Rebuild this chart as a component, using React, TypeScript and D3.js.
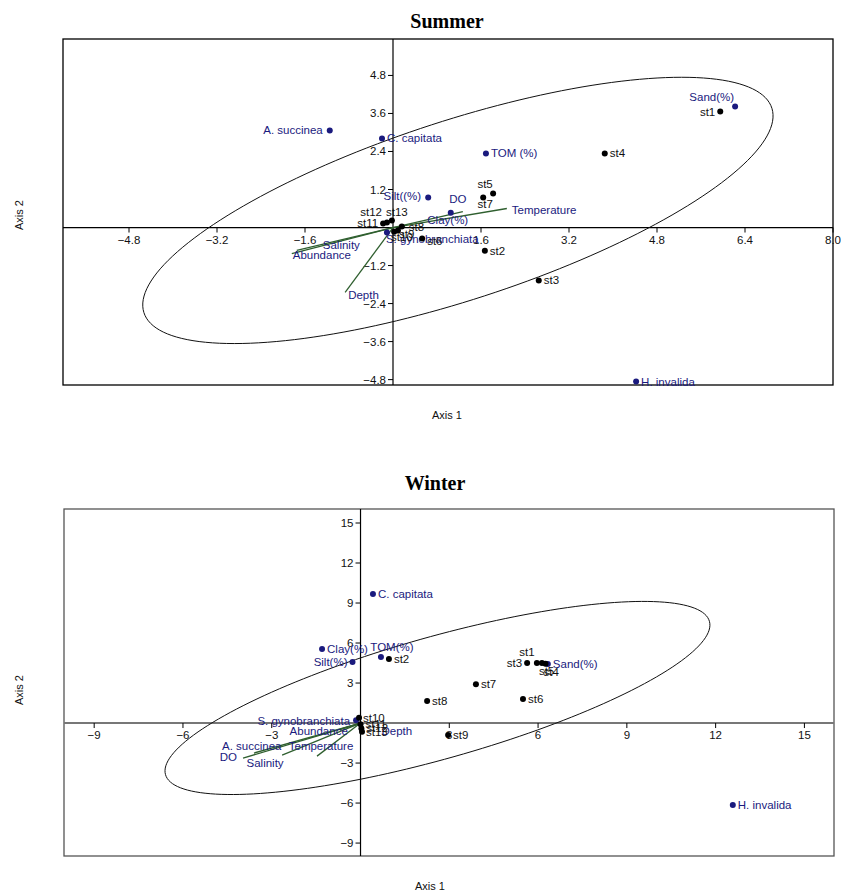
import React from "react";
import * as d3 from "d3";

// ---------- Summer ----------
const summerXTicks = [-4.8, -3.2, -1.6, 1.6, 3.2, 4.8, 6.4, 8.0];
const summerYTicks = [4.8, 3.6, 2.4, 1.2, -1.2, -2.4, -3.6, -4.8];

const summerSites: [string, number, number][] = [
  ["st1", 5.95, 3.66],
  ["st2", 1.67, -0.73],
  ["st3", 2.65, -1.67],
  ["st4", 3.85, 2.34],
  ["st5", 1.82, 1.07],
  ["st6", 0.53, -0.35],
  ["st7", 1.64, 0.95],
  ["st8", 0.16, 0.03],
  ["st9", 0.09, -0.09],
  ["st10", 0.02, -0.13],
  ["st11", -0.18, 0.13],
  ["st12", -0.11, 0.16],
  ["st13", -0.02, 0.22],
];

const summerSpecies: [string, number, number][] = [
  ["A. succinea", -1.15, 3.06],
  ["C. capitata", -0.2, 2.81],
  ["TOM (%)", 1.69, 2.34],
  ["Sand(%)", 6.22, 3.82],
  ["Silt((%)", 0.64, 0.95],
  ["Clay(%)", 1.05, 0.47],
  ["S. gynobranchiata", -0.11, -0.16],
  ["H. invalida", 4.42, -4.86],
];

const summerVectors: [string, number, number][] = [
  ["Temperature", 2.07, 0.6],
  ["DO", 1.27, 0.5],
  ["Salinity", -1.84, -0.82],
  ["Abundance", -1.75, -0.72],
  ["Depth", -0.87, -2.05],
];

// 95% ellipse: centre, major-axis vector, minor-axis vector (data units)
const summerEllipseCenter = [1.18, 0.54];
const summerEllipseMajor = [5.71, 3.22];
const summerEllipseMinor = [0.48, -2.7];

// ---------- Winter ----------
const winterXTicks = [-9, -6, -3, 3, 6, 9, 12, 15];
const winterYTicks = [15, 12, 9, 6, 3, -3, -6, -9];

const winterSites: [string, number, number][] = [
  ["st1", 5.96, 4.5],
  ["st2", 0.96, 4.8],
  ["st3", 5.63, 4.5],
  ["st4", 6.25, 4.45],
  ["st5", 6.13, 4.5],
  ["st6", 5.49, 1.8],
  ["st7", 3.9, 2.9],
  ["st8", 2.25, 1.65],
  ["st9", 2.96, -0.9],
  ["st10", -0.05, 0.4],
  ["st11", 0.0, -0.1],
  ["st12", 0.03, -0.4],
  ["st13", 0.05, -0.65],
];

const winterSpecies: [string, number, number][] = [
  ["C. capitata", 0.42, 9.68],
  ["Clay(%)", -1.3, 5.55],
  ["Silt(%)", -0.27, 4.58],
  ["TOM(%)", 0.69, 4.95],
  ["Sand(%)", 6.33, 4.43],
  ["S. gynobranchiata", -0.15, 0.2],
  ["H. invalida", 12.58, -6.15],
];

const winterVectors: [string, number, number][] = [
  ["DO", -3.97, -2.63],
  ["A. succinea", -3.6, -2.25],
  ["Salinity", -2.65, -2.4],
  ["Temperature", -1.47, -2.48],
  ["Abundance", -0.7, -0.5],
  ["Depth", 0.1, -0.35],
];

const winterEllipseCenter = [2.6, 1.88];
const winterEllipseMajor = [9.19, 5.75];
const winterEllipseMinor = [0.56, -4.4];

// label placement (pixel offsets from the mark)
type Place = [number, number, string];
const R: Place = [5, 4, "start"];
const L: Place = [-5, 4, "end"];

const summerLabels: Record<string, Place> = {
  "A. succinea": [-7, 3, "end"],
  "Sand(%)": [-1, -5, "end"],
  "Silt((%)": [-7, 3, "end"],
  "Clay(%)": [-3, 11, "middle"],
  "S. gynobranchiata": [-1, 10, "start"],
  st1: L,
  st5: [-8, -6, "middle"],
  st7: [2, 11, "middle"],
  st11: L,
  st12: [-5, -6, "end"],
  st13: [5, -5, "middle"],
  st9: [1, 8, "start"],
  st10: [-3, 9, "start"],
  st8: [7, 4, "start"],
  st6: [5, 6, "start"],
  Temperature: [5, 5, "start"],
  DO: [-5, -9, "middle"],
  Salinity: [31, -5, "start"],
  Abundance: [-4, 9, "start"],
  Depth: [3, 7, "start"],
};

const winterLabels: Record<string, Place> = {
  "Silt(%)": [-5, 4, "end"],
  "TOM(%)": [11, -6, "middle"],
  "S. gynobranchiata": [-6, 5, "end"],
  st3: L,
  st1: [-10, -7, "middle"],
  st5: [-3, 12, "start"],
  st4: [-2, 12, "start"],
  st10: [4, 4, "start"],
  st11: [5, 4, "start"],
  st12: [5, 4, "start"],
  st13: [4, 4, "start"],
  DO: [-6, 3, "end"],
  "A. succinea": [-32, -3, "start"],
  Salinity: [-17, 12, "middle"],
  Temperature: [4, -6, "middle"],
  Abundance: [8, 5, "end"],
  Depth: [18, 7, "start"],
};

const NAVY = "#1a1a7e";
const GREEN = "#2f5f2f";
const SANS = "Liberation Sans, Arial, sans-serif";

function Biplot(props: any) {
  const {
    title, titleX, titleY, left, right, top, bottom, xDomain, yDomain,
    xTicks, yTicks, fmt, sites, species, vectors, labels,
    eCenter, eMajor, eMinor, frameColor, xAxisColor, xAxisWidth, axisLabelX, axisLabelY, axis2Y,
  } = props;

  const x = d3.scaleLinear().domain(xDomain).range([left, right]);
  const y = d3.scaleLinear().domain(yDomain).range([bottom, top]);
  const x0 = x(0);
  const y0 = y(0);

  const ell = d3.range(0, 360, 2).map((deg) => {
    const t = (deg * Math.PI) / 180;
    return [
      eCenter[0] + Math.cos(t) * eMajor[0] + Math.sin(t) * eMinor[0],
      eCenter[1] + Math.cos(t) * eMajor[1] + Math.sin(t) * eMinor[1],
    ];
  });
  const line = d3
    .line<number[]>()
    .x((d) => x(d[0]))
    .y((d) => y(d[1]))
    .curve(d3.curveLinearClosed);

  const place = (name: string): Place => labels[name] || R;

  const label = (name: string, px: number, py: number, color: string) => {
    const [dx, dy, anchor] = place(name);
    return (
      <text
        key={"t" + name}
        x={px + dx}
        y={py + dy}
        textAnchor={anchor as any}
        fontFamily={SANS}
        fontSize={11.5}
        fill={color}
      >
        {name}
      </text>
    );
  };

  return (
    <g>
      <text x={titleX} y={titleY} textAnchor="middle" fontFamily="Liberation Serif, Times New Roman, serif" fontWeight="bold" fontSize={20}>
        {title}
      </text>
      <rect x={left} y={top} width={right - left} height={bottom - top} fill="white" stroke={frameColor} strokeWidth={1.3} />
      <line x1={left} x2={right} y1={y0} y2={y0} stroke={xAxisColor} strokeWidth={xAxisWidth} />
      <line x1={x0} x2={x0} y1={top} y2={bottom} stroke="#000" strokeWidth={1.2} />

      {xTicks.map((t: number) => (
        <g key={"xt" + t}>
          <line x1={x(t)} x2={x(t)} y1={y0} y2={y0 + 5} stroke="#000" />
          <text x={x(t)} y={y0 + 16} textAnchor="middle" fontFamily={SANS} fontSize={11.5} fill="#111">
            {fmt(t)}
          </text>
        </g>
      ))}
      {yTicks.map((t: number) => (
        <g key={"yt" + t}>
          <line x1={x0 - 5} x2={x0} y1={y(t)} y2={y(t)} stroke="#000" />
          <text x={x0 - 7} y={y(t) + 4} textAnchor="end" fontFamily={SANS} fontSize={11.5} fill="#111">
            {fmt(t)}
          </text>
        </g>
      ))}

      <path d={line(ell) || ""} fill="none" stroke="#111" strokeWidth={1} />

      {vectors.map((v: [string, number, number]) => (
        <line key={"v" + v[0]} x1={x0} y1={y0} x2={x(v[1])} y2={y(v[2])} stroke={GREEN} strokeWidth={1.3} />
      ))}
      {vectors.map((v: [string, number, number]) => label(v[0], x(v[1]), y(v[2]), NAVY))}

      {species.map((s: [string, number, number]) => (
        <circle key={"sp" + s[0]} cx={x(s[1])} cy={y(s[2])} r={3} fill={NAVY} />
      ))}
      {species.map((s: [string, number, number]) => label(s[0], x(s[1]), y(s[2]), NAVY))}

      {sites.map((s: [string, number, number]) => (
        <circle key={"si" + s[0]} cx={x(s[1])} cy={y(s[2])} r={3} fill="#000" />
      ))}
      {sites.map((s: [string, number, number]) => label(s[0], x(s[1]), y(s[2]), "#111"))}

      <text x={axisLabelX} y={axisLabelY} textAnchor="middle" fontFamily={SANS} fontSize={11} fill="#111">
        Axis 1
      </text>
      <text
        transform={`translate(23,${axis2Y}) rotate(-90)`}
        textAnchor="middle"
        fontFamily={SANS}
        fontSize={11}
        fill="#111"
      >
        Axis 2
      </text>
    </g>
  );
}

export default function App() {
  return (
    <svg width={841} height={894} style={{ position: "absolute", left: 0, top: 0, background: "white" }}>
      <rect width={841} height={894} fill="white" />
      <Biplot
        title="Summer"
        titleX={447}
        titleY={28}
        left={63}
        right={833}
        top={39}
        bottom={385}
        xDomain={[-6, 8]}
        yDomain={[-4.97, 5.95]}
        xTicks={summerXTicks}
        yTicks={summerYTicks}
        fmt={d3.format(".1f")}
        sites={summerSites}
        species={summerSpecies}
        vectors={summerVectors}
        labels={summerLabels}
        eCenter={summerEllipseCenter}
        eMajor={summerEllipseMajor}
        eMinor={summerEllipseMinor}
        frameColor="#000"
        xAxisColor="#000"
        xAxisWidth={1.2}
        axisLabelX={447}
        axisLabelY={419}
        axis2Y={215}
      />
      <Biplot
        title="Winter"
        titleX={435}
        titleY={490}
        left={64}
        right={834}
        top={509}
        bottom={856}
        xDomain={[-10.02, 16.0]}
        yDomain={[-9.97, 16.05]}
        xTicks={winterXTicks}
        yTicks={winterYTicks}
        fmt={d3.format("d")}
        sites={winterSites}
        species={winterSpecies}
        vectors={winterVectors}
        labels={winterLabels}
        eCenter={winterEllipseCenter}
        eMajor={winterEllipseMajor}
        eMinor={winterEllipseMinor}
        frameColor="#555"
        xAxisColor="#777"
        xAxisWidth={2}
        axisLabelX={430}
        axisLabelY={890}
        axis2Y={690}
      />
    </svg>
  );
}
